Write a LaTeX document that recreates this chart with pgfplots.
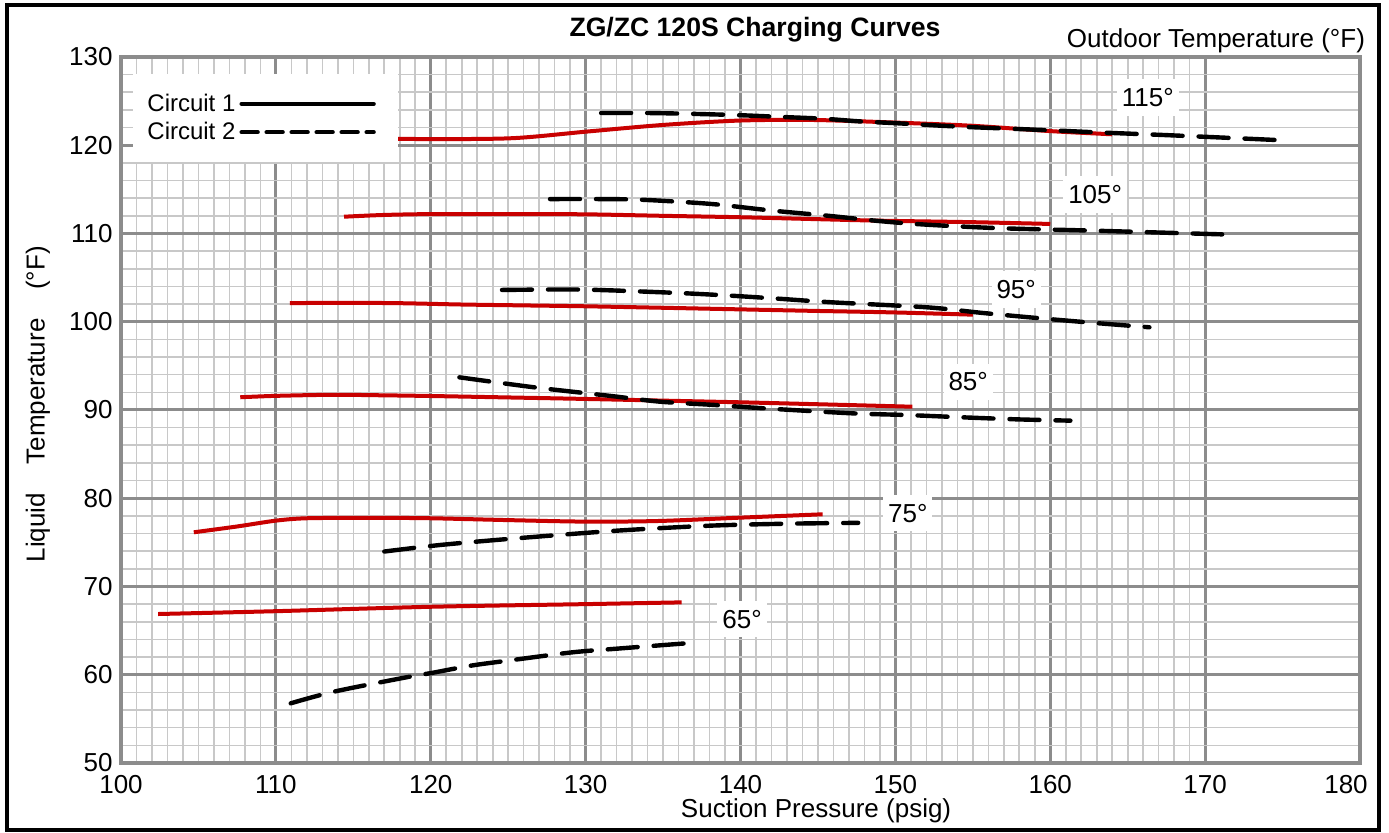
\documentclass[border=0pt]{standalone}
\usepackage{pgfplots}
\pgfplotsset{compat=1.18}
\usepackage{fontspec}
\setmainfont{Liberation Sans}

\definecolor{curvered}{RGB}{200,0,0}
\definecolor{majorgrid}{RGB}{140,140,140}
\definecolor{minorgrid}{RGB}{200,200,200}

\begin{document}
\begin{tikzpicture}
\begin{axis}[
  name=main,
  scale only axis,
  width=619.5pt, height=353pt,
  xmin=100, xmax=180, ymin=50, ymax=130,
  xtick={100,110,...,170}, ytick={50,60,...,130},
  extra x ticks={180},
  extra x tick style={xticklabel style={xshift=-7pt}},
  minor x tick num=9, minor y tick num=4,
  grid=both,
  major grid style={draw=majorgrid, line width=1.5pt},
  minor grid style={draw=minorgrid, line width=0.8pt},
  axis line style={draw=majorgrid, line width=2pt},
  major tick length=0pt, minor tick length=0pt,
  /pgf/number format/assume math mode=true,
  ticklabel style={font=\fontsize{13}{15}\selectfont},
  xticklabel style={inner sep=0pt, yshift=-6pt},
  yticklabel style={inner sep=0pt, xshift=-4pt},
  xlabel={Suction Pressure (psig)},
  xlabel style={at={(axis description cs:0.561,-0.068)}, anchor=center, font=\fontsize{13}{15}\selectfont},
  ylabel={Liquid\hspace{1.1em}Temperature\hspace{1.1em}(°F)},
  ylabel style={at={(axis description cs:-0.067,0.508)}, anchor=center, font=\fontsize{13}{15}\selectfont},
  legend style={at={(axis description cs:0.0097,0.977)}, anchor=north west,
    draw=none, fill=white, font=\fontsize{12}{14}\selectfont,
    inner xsep=5pt, inner ysep=8pt, row sep=0pt},
  legend cell align=left,
  legend plot pos=right,
  legend image code/.code={\draw[#1] (0pt,0pt) -- (66pt,0pt); \path (72pt,0pt);},
]

\addlegendimage{black, line width=2.2pt, line cap=round}
\addlegendentry{Circuit 1}
\addlegendimage{black, line width=2.2pt, line cap=round, dash pattern=on 8pt off 4.5pt}
\addlegendentry{Circuit 2}

% Circuit 1 (red, solid)
\addplot[curvered, line width=2pt, smooth, forget plot] coordinates {
 (111,121.0) (115,120.8) (119.9,120.7) (125.3,120.8) (130.1,121.55) (135,122.3)
 (140,122.8) (144.7,122.86) (150.1,122.56) (155,122.2) (160,121.6) (164,121.24)};
\addplot[curvered, line width=2pt, smooth, forget plot] coordinates {
 (114.4,111.9) (117,112.1) (120.2,112.2) (125,112.2) (130,112.17) (135,112.0)
 (140,111.84) (145,111.62) (149,111.45) (155,111.28) (160,111.08)};
\addplot[curvered, line width=2pt, smooth, forget plot] coordinates {
 (110.9,102.1) (114,102.15) (118,102.1) (122,101.95) (126,101.85) (130,101.75)
 (135,101.58) (140,101.4) (145,101.22) (150,101.05) (155,100.8)};
\addplot[curvered, line width=2pt, smooth, forget plot] coordinates {
 (107.7,91.44) (110,91.6) (113.7,91.72) (117,91.66) (120.1,91.58) (125,91.42)
 (130,91.25) (135,91.06) (140,90.87) (145,90.65) (151.1,90.37)};
\addplot[curvered, line width=2pt, smooth, forget plot] coordinates {
 (104.7,76.14) (107.5,76.8) (110,77.46) (112,77.73) (116,77.78) (120,77.73)
 (125,77.52) (130,77.35) (134.7,77.42) (140,77.8) (145.3,78.18)};
\addplot[curvered, line width=2pt, smooth, forget plot] coordinates {
 (102.4,66.88) (110,67.2) (120,67.7) (130,68.0) (136.2,68.2)};

% Circuit 2 (black, dashed)
\addplot[black, line width=2.2pt, line cap=round, dash pattern=on 15pt off 8pt, smooth, forget plot] coordinates {
 (131,123.65) (134,123.65) (137,123.55) (140,123.4) (142.7,123.2) (145.4,123.0)
 (147.7,122.7) (150,122.5) (154.2,122.1) (159.5,121.73) (163.4,121.43)
 (167.3,121.16) (171.2,120.86) (175,120.56)};
\addplot[black, line width=2.2pt, line cap=round, dash pattern=on 15pt off 8pt, smooth, forget plot] coordinates {
 (127.7,113.9) (131,113.9) (133.2,113.85) (135.5,113.65) (138.4,113.3) (142,112.6)
 (145.7,112.0) (149,111.4) (152,111.0) (156.7,110.6) (163.2,110.3) (171.1,109.9)};
\addplot[black, line width=2.2pt, line cap=round, dash pattern=on 15pt off 8pt, smooth, forget plot] coordinates {
 (124.6,103.6) (129.8,103.64) (135.4,103.3) (138.9,103.0) (142.2,102.64) (145.9,102.2)
 (152,101.64) (155.6,101.0) (158.9,100.46) (162.6,99.9) (166.4,99.37)};
\addplot[black, line width=2.2pt, line cap=round, dash pattern=on 15pt off 8pt, smooth, forget plot] coordinates {
 (121.85,93.7) (126.67,92.57) (131.67,91.58) (134.8,90.94) (138.3,90.57) (141.5,90.19)
 (147.2,89.62) (150.7,89.43) (154.3,89.17) (157.8,88.94) (161.3,88.79)};
\addplot[black, line width=2.2pt, line cap=round, dash pattern=on 15pt off 8pt, smooth, forget plot] coordinates {
 (117,73.96) (120.6,74.7) (125.2,75.41) (131.9,76.31) (137.5,76.85) (140.75,77.03)
 (144,77.14) (147.6,77.21)};
\addplot[black, line width=2.2pt, line cap=round, dash pattern=on 15pt off 8pt, smooth, forget plot] coordinates {
 (110.96,56.76) (113.8,58.1) (118.7,59.8) (120.06,60.2) (122.6,61.03) (125,61.6)
 (129.1,62.53) (132,62.95) (136.5,63.56)};

% outdoor temperature labels
\begin{scope}[every node/.style={fill=white, inner xsep=2.5pt, inner ysep=4.5pt, font=\fontsize{13}{15}\selectfont}]
\node at (axis cs:166.3,125.4) {115°};
\node at (axis cs:162.9,114.4) {105°};
\node at (axis cs:157.8,103.65) {95°};
\node at (axis cs:154.7,93.2) {85°};
\node at (axis cs:150.8,78.3) {75°};
\node at (axis cs:140.1,66.3) {65°};
\end{scope}
\end{axis}

\node[anchor=center, font=\bfseries\fontsize{13.3}{15}\selectfont] at ([shift={(317pt,13.5pt)}]main.north west) {ZG/ZC 120S Charging Curves};
\node[anchor=base east, font=\fontsize{13}{15}\selectfont] at ([shift={(6pt,4.5pt)}]main.north east) {Outdoor Temperature (°F)};
\draw[line width=2pt] ([shift={(-57pt,-33.5pt)}]main.south west) rectangle ([shift={(9.5pt,26pt)}]main.north east);
\path ([shift={(-60.5pt,-35pt)}]main.south west) rectangle ([shift={(14.5pt,28.5pt)}]main.north east);
\end{tikzpicture}
\end{document}
